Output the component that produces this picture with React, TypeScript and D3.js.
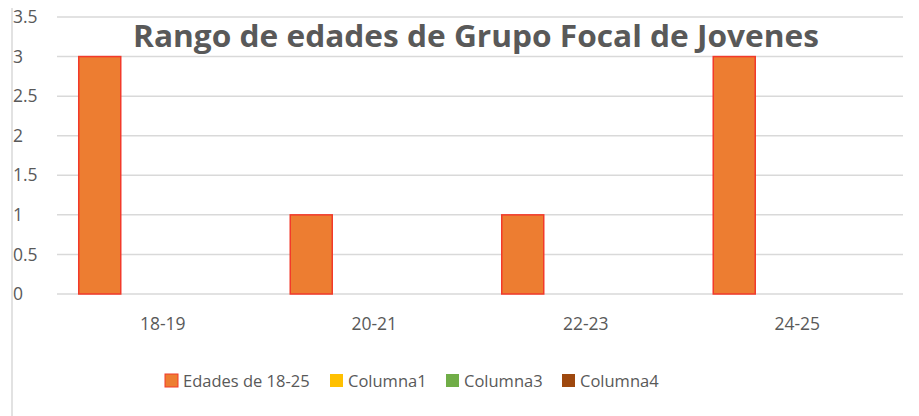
import React, { useEffect, useRef } from 'react';
import * as d3 from 'd3';

const categories = ['18-19', '20-21', '22-23', '24-25'];
const seriesNames = ['Edades de 18-25', 'Columna1', 'Columna3', 'Columna4'];
const edades = [3, 1, 1, 3];
const columna1 = [null, null, null, null];
const columna3 = [null, null, null, null];
const columna4 = [null, null, null, null];
const yTicks = [0, 0.5, 1, 1.5, 2, 2.5, 3, 3.5];
const seriesColors = ['#ED7D31', '#FFC000', '#70AD47', '#9E480E'];

const W = 919;
const H = 416;
const FONT = "'Open Sans', 'Noto Sans', sans-serif";

const App = () => {
    const ref = useRef(null);

    useEffect(() => {
        const svg = d3.select(ref.current);
        svg.selectAll('*').remove();

        const series = [edades, columna1, columna3, columna4];

        const x = d3.scaleBand().domain(categories).range([57, 903]);
        const gap = x.bandwidth() * 0.1028;
        const xInner = d3.scaleBand()
            .domain(seriesNames)
            .range([gap, x.bandwidth() - gap]);
        const y = d3.scaleLinear().domain([0, 3.5]).range([294, 17]);

        // left border line
        svg.append('line')
            .attr('x1', 12).attr('x2', 12)
            .attr('y1', 8).attr('y2', H)
            .attr('stroke', '#d9d9d9')
            .attr('stroke-width', 1.5);

        // gridlines
        svg.append('g')
            .selectAll('line')
            .data(yTicks)
            .join('line')
            .attr('x1', 57)
            .attr('x2', 903)
            .attr('y1', d => y(d))
            .attr('y2', d => y(d))
            .attr('stroke', '#d9d9d9')
            .attr('stroke-width', 1.5);

        // y tick labels
        svg.append('g')
            .selectAll('text')
            .data(yTicks)
            .join('text')
            .attr('x', 13)
            .attr('y', d => y(d))
            .attr('dy', '0.35em')
            .attr('fill', '#595959')
            .style('font-family', FONT)
            .style('font-size', '17.5px')
            .text(d => String(d));

        // bars
        series.forEach((vals, si) => {
            svg.append('g')
                .selectAll('rect')
                .data(vals.map((v, i) => ({ v, c: categories[i] })).filter(d => d.v !== null))
                .join('rect')
                .attr('x', d => x(d.c) + xInner(seriesNames[si]))
                .attr('width', xInner.bandwidth())
                .attr('y', d => y(d.v))
                .attr('height', d => y(0) - y(d.v))
                .attr('fill', seriesColors[si])
                .attr('stroke', si === 0 ? '#f23a2a' : 'none')
                .attr('stroke-width', 1.5);
        });

        // category labels
        svg.append('g')
            .selectAll('text')
            .data(categories)
            .join('text')
            .attr('x', d => x(d) + x.bandwidth() / 2)
            .attr('y', 324)
            .attr('dy', '0.35em')
            .attr('text-anchor', 'middle')
            .attr('fill', '#595959')
            .style('font-family', FONT)
            .style('font-size', '17.5px')
            .text(d => d);

        // title
        svg.append('text')
            .attr('x', 476)
            .attr('y', 47)
            .attr('text-anchor', 'middle')
            .attr('fill', '#595959')
            .style('font-family', FONT)
            .style('font-weight', 'bold')
            .style('font-size', '30px')
            .attr('textLength', 686)
            .attr('lengthAdjust', 'spacingAndGlyphs')
            .text('Rango de edades de Grupo Focal de Jovenes');

        // legend
        const legendX = [165, 330, 446, 562];
        const legend = svg.append('g')
            .selectAll('g')
            .data(seriesNames)
            .join('g')
            .attr('transform', (d, i) => `translate(${legendX[i]},374)`);
        legend.append('rect')
            .attr('width', 13)
            .attr('height', 13)
            .attr('fill', (d, i) => seriesColors[i])
            .attr('stroke', (d, i) => i === 0 ? '#f23a2a' : 'none')
            .attr('stroke-width', 1);
        legend.append('text')
            .attr('x', 18)
            .attr('y', 7)
            .attr('dy', '0.35em')
            .attr('fill', '#595959')
            .style('font-family', FONT)
            .style('font-size', '16.5px')
            .text(d => d);
    }, []);

    return (
        <svg
            ref={ref}
            width={W}
            height={H}
            style={{ position: 'absolute', top: 0, left: 0, background: '#fff' }}
        />
    );
};

export default App;
